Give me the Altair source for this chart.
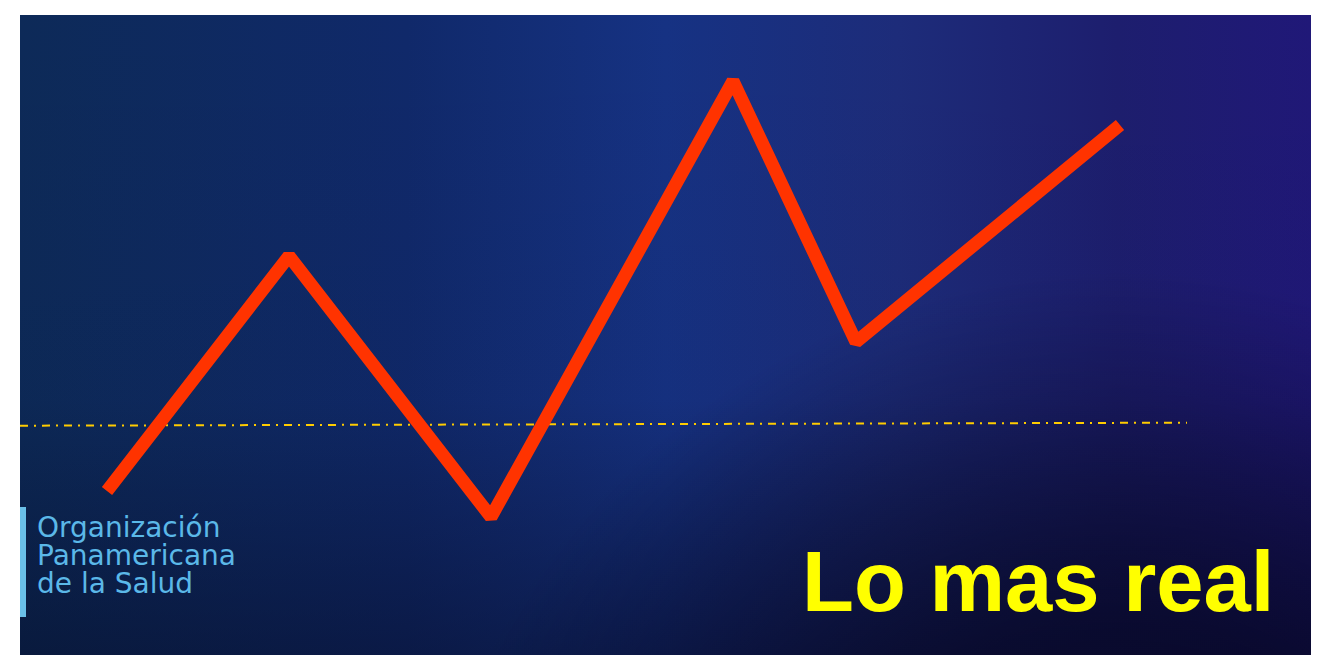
import altair as alt
import pandas as pd

# ---- data ----
periodo = [9.9, 28.1, 48.3, 72.5, 84.8, 111.2]
valor = [16.4, 39.9, 13.8, 57.4, 31.3, 53.0]

ref_x = [1.2, 117.9]
ref_y = [22.93, 23.23]

org_lines = ["Organización", "Panamericana", "de la Salud"]
title_text = ["Lo mas real"]

W, H = 1303, 647
xs = alt.Scale(domain=[0, 130.3], nice=False, zero=False)
ys = alt.Scale(domain=[0, 64.7], nice=False, zero=False)

serie = pd.DataFrame({"periodo": periodo, "valor": valor})
ref = pd.DataFrame({"periodo": ref_x, "valor": ref_y})
org = pd.DataFrame({"t": org_lines, "i": [0, 1, 2]})
tit = pd.DataFrame({"t": title_text})

one = pd.DataFrame({"a": [0]})


def panel(fill):
    return alt.Chart(one).mark_rect(fill=fill).encode(
        x=alt.value(12), x2=alt.value(W), y=alt.value(7), y2=alt.value(H)
    )


bg = panel({
    "gradient": "linear", "x1": 0, "y1": 0, "x2": 1, "y2": 0,
    "stops": [
        {"offset": 0.0, "color": "#0D2A58"},
        {"offset": 0.3, "color": "#10296A"},
        {"offset": 0.5, "color": "#163283"},
        {"offset": 0.68, "color": "#1D2C7A"},
        {"offset": 0.85, "color": "#1D1E6E"},
        {"offset": 1.0, "color": "#201878"},
    ],
})

shade = panel({
    "gradient": "linear", "x1": 0, "y1": 0, "x2": 0, "y2": 1,
    "stops": [
        {"offset": 0.0, "color": "rgba(5,10,35,0)"},
        {"offset": 0.6, "color": "rgba(5,10,35,0.05)"},
        {"offset": 1.0, "color": "rgba(5,10,35,0.5)"},
    ],
})

dark = panel({
    "gradient": "radial", "x1": 0.85, "y1": 1.0, "r1": 0,
    "x2": 0.85, "y2": 1.0, "r2": 0.55,
    "stops": [
        {"offset": 0.0, "color": "rgba(6,6,35,0.95)"},
        {"offset": 0.5, "color": "rgba(6,6,35,0.7)"},
        {"offset": 1.0, "color": "rgba(6,6,35,0)"},
    ],
})

logo = alt.Chart(one).mark_rect(fill="#6AC0E8").encode(
    x=alt.value(12), x2=alt.value(18), y=alt.value(499), y2=alt.value(609)
)

refline = alt.Chart(ref).mark_line(
    color="#FFCC00", strokeWidth=2, strokeDash=[8, 6, 2, 6]
).encode(
    x=alt.X("periodo:Q", scale=xs, axis=None),
    y=alt.Y("valor:Q", scale=ys, axis=None),
)

line = alt.Chart(serie).mark_line(
    color="#FF3300", strokeWidth=13, strokeJoin="bevel", strokeCap="butt"
).encode(
    x=alt.X("periodo:Q", scale=xs, axis=None),
    y=alt.Y("valor:Q", scale=ys, axis=None),
)

orgtext = alt.Chart(org).mark_text(
    align="left", baseline="alphabetic", font="DejaVu Sans", fontSize=28,
    color="#5BB8E8"
).encode(
    text="t:N",
    x=alt.value(29),
    y=alt.Y("i:Q", scale=alt.Scale(domain=[0, 2], range=[529, 585]), axis=None),
)

titletext = alt.Chart(tit).mark_text(
    align="left", baseline="alphabetic", font="Liberation Sans", fontWeight="bold",
    fontSize=85, color="#FFFF00"
).encode(text="t:N", x=alt.value(794), y=alt.value(603))

chart = alt.layer(bg, shade, dark, logo, refline, line, orgtext, titletext).resolve_scale(
    y="independent"
).properties(
    width=W, height=H, padding=0, autosize=alt.AutoSizeParams(type="none"),
    background="white",
).configure_view(strokeWidth=0)

chart.save("out.html", embed_options={"renderer": "svg", "actions": False})
